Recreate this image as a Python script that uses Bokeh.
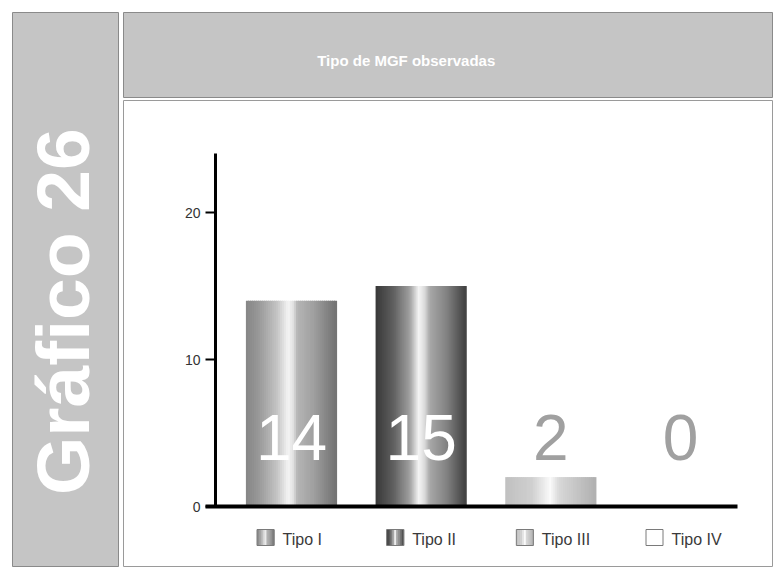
import numpy as np
from bokeh.plotting import figure
from bokeh.models import Range1d, FixedTicker, Label, ColumnDataSource
from bokeh.layouts import row, column
from bokeh.embed import file_html
from bokeh.resources import INLINE
from bokeh.core.properties import value

# ---------------- data ----------------
categories = ["Tipo I", "Tipo II", "Tipo III", "Tipo IV"]
counts = [14, 15, 2, 0]
y_ticks = [0, 10, 20]
y_axis_max = 24
chart_number = "Gráfico 26"
chart_title = "Tipo de MGF observadas"

# ---------------- styles ----------------
bar_gradients = [
    [(0, 0x85), (0.15, 0x9a), (0.35, 0xc5), (0.47, 0xf5), (0.53, 0xe0), (0.57, 0xb5), (0.75, 0xa0), (1.0, 0x72)],
    [(0, 0x38), (0.2, 0x60), (0.38, 0xa0), (0.48, 0xf5), (0.55, 0xd8), (0.6, 0xa8), (0.8, 0x80), (1.0, 0x40)],
    [(0, 0xc0), (0.3, 0xd0), (0.5, 0xfa), (0.6, 0xd8), (1.0, 0xb0)],
    [(0, 0xff), (1, 0xff)],
]
label_colors = ["white", "white", "#a0a0a0", "#a0a0a0"]
PANEL_GRAY = "#c5c5c5"
PANEL_EDGE = "#8a8a8a"
FONT = "Liberation Sans"


def gray_at(stops, t):
    xs = [s[0] for s in stops]
    gs = [s[1] for s in stops]
    g = int(round(np.interp(t, xs, gs)))
    return "#%02x%02x%02x" % (g, g, g)


# ---------------- left panel ----------------
left = figure(width=121, height=567, x_range=Range1d(0, 1), y_range=Range1d(0, 1),
              x_axis_type=None, y_axis_type=None, output_backend="svg", toolbar_location=None,
              min_border_left=12, min_border_right=3, min_border_top=12, min_border_bottom=0)
left.background_fill_color = PANEL_GRAY
left.border_fill_color = "white"
left.outline_line_color = PANEL_EDGE
left.grid.visible = False
left.add_layout(Label(x=0.48, y=0.461, text=chart_number, angle=np.pi / 2,
                      text_align="center", text_baseline="middle",
                      text_font=FONT, text_font_style="bold", text_font_size="75px",
                      text_color="white"))

# ---------------- header ----------------
header = figure(width=652, height=98, x_range=Range1d(0, 1), y_range=Range1d(0, 1),
                x_axis_type=None, y_axis_type=None, output_backend="svg", toolbar_location=None,
                min_border_left=2, min_border_right=0, min_border_top=12, min_border_bottom=1)
header.background_fill_color = PANEL_GRAY
header.border_fill_color = "white"
header.outline_line_color = PANEL_EDGE
header.grid.visible = False
header.add_layout(Label(x=0.435, y=0.435, text=chart_title,
                        text_align="center", text_baseline="middle",
                        text_font=FONT, text_font_style="bold", text_font_size="15px",
                        text_color="white"))

# ---------------- main chart ----------------
FW, FH = 650, 467
X0 = -1.2956
X1 = X0 + FW / 129.67
Y1 = 27.62
Y0 = Y1 - FH / 14.7
px_x = (X1 - X0) / FW
px_y = (Y1 - Y0) / FH

main = figure(width=652, height=469, x_range=Range1d(X0, X1), y_range=Range1d(Y0, Y1),
              output_backend="svg", toolbar_location=None,
              min_border_left=2, min_border_right=0, min_border_top=2, min_border_bottom=0)
main.grid.visible = False
main.background_fill_color = "white"
main.border_fill_color = "white"
main.outline_line_color = "#9a9a9a"

positions = list(range(len(categories)))

# bars with metallic gradient (thin stripes)
bar_w = 0.694
N = 45
bx, btop, bcol = [], [], []
for i, v in zip(positions, counts):
    stops = bar_gradients[i]
    for j in range(N):
        t = (j + 0.5) / N
        bx.append(i - bar_w / 2 + t * bar_w)
        btop.append(v)
        bcol.append(gray_at(stops, t))
main.vbar(source=ColumnDataSource(dict(x=bx, top=btop, c=bcol)), x="x", top="top", bottom=0,
          width=bar_w / N * 1.6, fill_color="c", line_color=None)

# axes
ya = main.yaxis[0]
ya.fixed_location = -0.586
ya.bounds = (0, y_axis_max)
ya.ticker = FixedTicker(ticks=y_ticks)
ya.axis_line_width = 3
ya.axis_line_color = "black"
ya.major_tick_out = 10
ya.major_tick_in = 0
ya.major_tick_line_width = 2
ya.major_tick_line_color = "black"
ya.minor_tick_line_color = None
ya.major_label_text_font = FONT
ya.major_label_text_font_size = "14px"
ya.major_label_text_color = "#333333"
ya.major_label_standoff = 5

xa = main.xaxis[0]
xa.fixed_location = 0
xa.bounds = (-0.66, 3.44)
xa.ticker = FixedTicker(ticks=[])
xa.major_label_text_font_size = "0px"
xa.axis_line_width = 4
xa.axis_line_color = "black"
xa.major_tick_line_color = None
xa.minor_tick_line_color = None

# value labels
label_y = 69 * px_y
main.text(source=ColumnDataSource(dict(x=positions, y=[label_y] * len(counts),
                                       t=[str(v) for v in counts], c=label_colors)),
          x="x", y="y", text="t", text_color="c", text_align="center", text_baseline="middle",
          text_font=value(FONT), text_font_size="64px")

# legend swatches under each bar
sw_w = 17 * px_x
sw_h = 16 * px_y
sw_cy = -31 * px_y
sw_off = -26 * px_x
M = 9
sl, sr, sc = [], [], []
for i in positions:
    stops = bar_gradients[i]
    left_edge = i + sw_off - sw_w / 2
    for j in range(M):
        t = (j + 0.5) / M
        sl.append(left_edge + j * sw_w / M)
        sr.append(left_edge + (j + 1) * sw_w / M + sw_w / M * 0.3)
        sc.append(gray_at(stops, t))
main.quad(source=ColumnDataSource(dict(l=sl, r=sr, c=sc)), left="l", right="r",
          bottom=sw_cy - sw_h / 2, top=sw_cy + sw_h / 2, fill_color="c", line_color=None)
main.quad(left=[i + sw_off - sw_w / 2 for i in positions], right=[i + sw_off + sw_w / 2 for i in positions],
          bottom=sw_cy - sw_h / 2, top=sw_cy + sw_h / 2, fill_color=None, line_color="#7a7a7a", line_width=1)

main.text(x=positions, y=[-33 * px_y] * len(categories), text=categories, x_offset=-9,
          text_align="left", text_baseline="middle", text_font=value(FONT),
          text_font_size="16px", text_color="#3a3a3a")

layout = row(left, column(header, main))
open("out.html", "w").write(file_html(layout, INLINE))
